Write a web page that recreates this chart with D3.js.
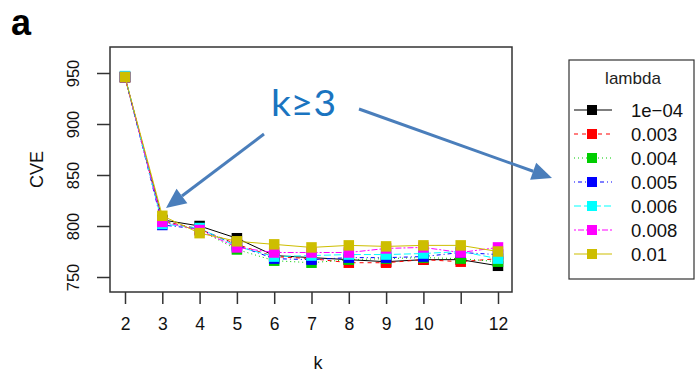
<!DOCTYPE html>
<html>
<head>
<meta charset="utf-8">
<script src="https://cdn.jsdelivr.net/npm/d3@7"></script>
<style>
  html, body { margin: 0; padding: 0; background: #fff; }
  svg { display: block; }
</style>
</head>
<body>
<svg id="chart" width="695" height="375"></svg>
<script>
// k values and tick labels
const kValues = [2, 3, 4, 5, 6, 7, 8, 9, 10, 11, 12];
const xTicks = [2, 3, 4, 5, 6, 7, 8, 9, 10, 11, 12];
const xTickLabels = ["2", "3", "4", "5", "6", "7", "8", "9", "10", "", "12"];
const yTicks = [750, 800, 850, 900, 950];

// lambda settings and their CVE curves
const lambdas = ["1e\u221204", "0.003", "0.004", "0.005", "0.006", "0.008", "0.01"];
const cve_1e04  = [946, 806, 800, 788, 771, 769, 767, 765, 767, 767, 761];
const cve_0003  = [946, 805, 797, 782, 770, 768, 764, 764, 767, 765, 768];
const cve_0004  = [946, 805, 796, 777, 766, 764, 767, 768, 769, 768, 765];
const cve_0005  = [946, 801, 797, 781, 768, 767, 769, 769, 770, 774, 772];
const cve_0006  = [947, 802, 798, 780, 770, 771, 772, 772, 773, 775, 768];
const cve_0008  = [946, 804, 796, 779, 774, 774, 774, 778, 779, 774, 779];
const cve_001   = [946, 810, 793, 785, 782, 779, 781, 780, 781, 781, 775];
const seriesValues = [cve_1e04, cve_0003, cve_0004, cve_0005, cve_0006, cve_0008, cve_001];

const colors = ["#000000", "#ff0000", "#00cd00", "#0000ff", "#00ffff", "#ff00ff", "#cdbe00"];
const dashes = [null, "4,4", "1,3", "1,3,4,3", "7,3", "2,2,6,2", null];

const svg = d3.select("#chart");
const box = { left: 110, right: 512, top: 47, bottom: 292 };

const x = d3.scaleLinear().domain([2, 12]).range([125, 498]);
const y = d3.scaleLinear().domain([750, 950]).range([277, 73]);

const axisColor = "#333";
const font = "'Liberation Sans', Arial, sans-serif";

// panel letter
svg.append("text").attr("x", 11).attr("y", 35)
  .attr("font-family", font).attr("font-weight", "bold").attr("font-size", 36)
  .attr("fill", "#000").text("a");

// plot frame
svg.append("rect")
  .attr("x", box.left).attr("y", box.top)
  .attr("width", box.right - box.left).attr("height", box.bottom - box.top)
  .attr("fill", "none").attr("stroke", axisColor).attr("stroke-width", 1.5);

// x axis
const xAxis = d3.axisBottom(x).tickValues(xTicks).tickSize(12).tickPadding(14)
  .tickFormat((d, i) => xTickLabels[i]);
const gx = svg.append("g").attr("transform", `translate(0,${box.bottom})`).call(xAxis);
gx.select(".domain").remove();
gx.selectAll("line").attr("stroke", axisColor).attr("stroke-width", 1.5);
gx.selectAll("text").attr("font-family", font).attr("font-size", 17.5).attr("fill", "#111");

// y axis with rotated labels
const yAxis = d3.axisLeft(y).tickValues(yTicks).tickSize(13).tickPadding(0);
const gy = svg.append("g").attr("transform", `translate(${box.left},0)`).call(yAxis);
gy.select(".domain").remove();
gy.selectAll("line").attr("stroke", axisColor).attr("stroke-width", 1.5);
gy.selectAll("text")
  .attr("font-family", font).attr("font-size", 16.5).attr("fill", "#111")
  .attr("x", null)
  .attr("text-anchor", "middle")
  .attr("transform", "translate(-37,0) rotate(-90)")
  .attr("dy", "0.36em");

// axis titles
svg.append("text").attr("x", (box.left + box.right) / 2 + 7).attr("y", 369)
  .attr("text-anchor", "middle").attr("font-family", font).attr("font-size", 18)
  .attr("fill", "#111").text("k");
svg.append("text")
  .attr("transform", `translate(43,${(box.top + box.bottom) / 2}) rotate(-90)`)
  .attr("text-anchor", "middle").attr("font-family", font).attr("font-size", 18)
  .attr("fill", "#111").text("CVE");

// series: line then square markers, drawn in legend order
const line = d3.line().x((d, i) => x(kValues[i])).y(d => y(d));
const ms = 10.5;
seriesValues.forEach((vals, s) => {
  const g = svg.append("g");
  g.append("path").attr("d", line(vals))
    .attr("fill", "none").attr("stroke", colors[s]).attr("stroke-width", 1)
    .attr("stroke-dasharray", dashes[s]);
  g.selectAll("rect").data(vals).join("rect")
    .attr("x", (d, i) => x(kValues[i]) - ms / 2)
    .attr("y", d => y(d) - ms / 2)
    .attr("width", ms).attr("height", ms)
    .attr("fill", colors[s]);
});

// legend
const lg = svg.append("g");
lg.append("rect").attr("x", 569).attr("y", 60).attr("width", 125).attr("height", 219)
  .attr("fill", "#fff").attr("stroke", axisColor).attr("stroke-width", 1.2);
lg.append("text").attr("x", 633).attr("y", 84).attr("text-anchor", "middle")
  .attr("font-family", font).attr("font-size", 17).attr("fill", "#222").text("lambda");
lambdas.forEach((lab, i) => {
  const yy = 110 + i * 24;
  lg.append("line").attr("x1", 574).attr("x2", 612).attr("y1", yy).attr("y2", yy)
    .attr("stroke", colors[i]).attr("stroke-width", 1.1).attr("stroke-dasharray", dashes[i]);
  lg.append("rect").attr("x", 592 - 5).attr("y", yy - 5).attr("width", 10).attr("height", 10)
    .attr("fill", colors[i]);
  lg.append("text").attr("x", 631).attr("y", yy).attr("dy", "0.36em")
    .attr("font-family", font).attr("font-size", 18.5).attr("fill", "#111").text(lab);
});

// annotation arrows and label
const arrowColor = "#4a7ebb";
function arrow(x1, y1, x2, y2) {
  const ang = Math.atan2(y2 - y1, x2 - x1);
  const headLen = 20, headW = 9;
  const bx = x2 - headLen * Math.cos(ang), by = y2 - headLen * Math.sin(ang);
  svg.append("line").attr("x1", x1).attr("y1", y1).attr("x2", bx).attr("y2", by)
    .attr("stroke", arrowColor).attr("stroke-width", 3);
  const px = -Math.sin(ang) * headW, py = Math.cos(ang) * headW;
  svg.append("path")
    .attr("d", `M${x2},${y2}L${bx + px},${by + py}L${bx - px},${by - py}Z`)
    .attr("fill", arrowColor);
}
arrow(264, 134, 166, 208);
arrow(359, 109, 552, 178);

svg.append("text").attr("x", 271).attr("y", 116)
  .attr("font-family", "Lato, 'Open Sans', sans-serif").attr("font-size", 36)
  .attr("fill", "#1a74c0")
  .attr("textLength", 65).attr("lengthAdjust", "spacingAndGlyphs")
  .text("k\u22653");
</script>
</body>
</html>
